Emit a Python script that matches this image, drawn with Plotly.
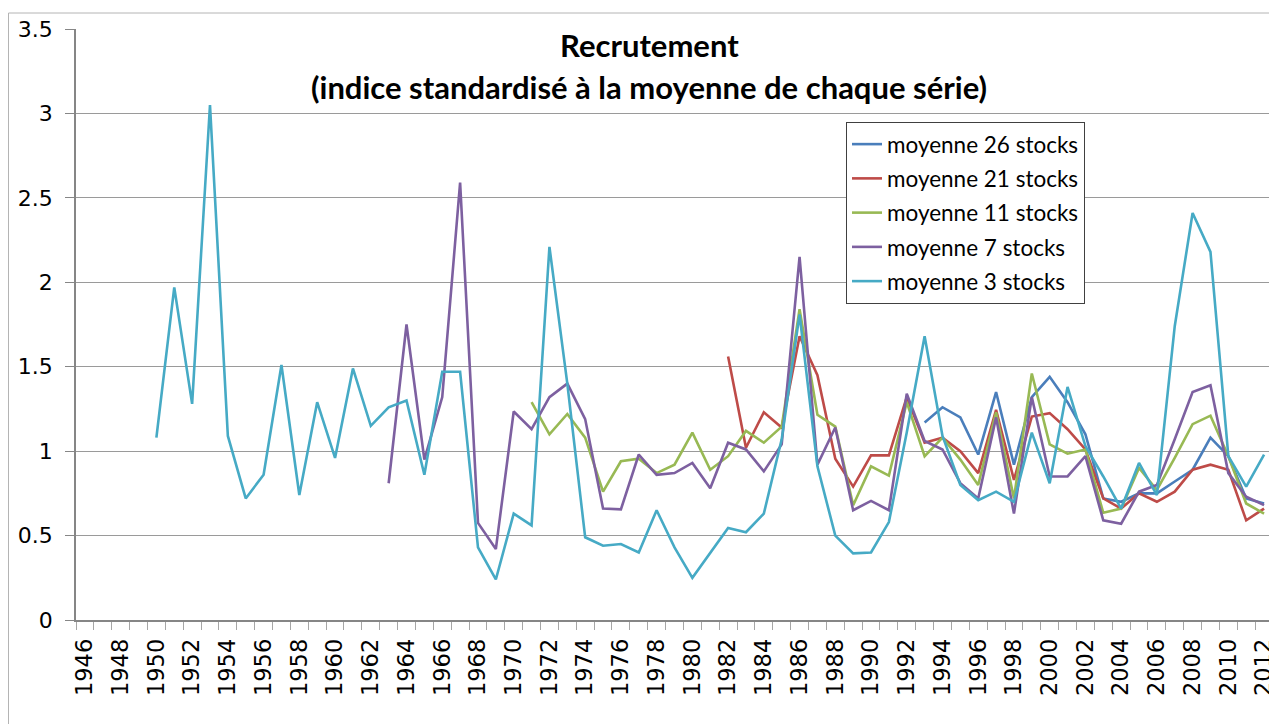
import plotly.graph_objects as go

years = list(range(1946, 2013))

s3_years = list(range(1950, 2013))
s3 = [1.08, 1.97, 1.28, 3.05, 1.09, 0.72, 0.86, 1.51, 0.74, 1.29, 0.96, 1.49, 1.15, 1.26, 1.30,
      0.86, 1.47, 1.47, 0.43, 0.24, 0.63, 0.56, 2.21, 1.40, 0.49, 0.44, 0.45, 0.40, 0.65, 0.43,
      0.25, 0.40, 0.545, 0.52, 0.63, 1.07, 1.81, 0.91, 0.50, 0.395, 0.40, 0.58, 1.11, 1.68, 1.09,
      0.80, 0.71, 0.76, 0.70, 1.11, 0.81, 1.38, 1.03, 0.85, 0.66, 0.93, 0.74, 1.74, 2.41, 2.18,
      0.97, 0.79, 0.98]

s7_years = list(range(1963, 2013))
s7 = [0.81, 1.75, 0.95, 1.32, 2.59, 0.575, 0.42, 1.235, 1.13, 1.32, 1.40, 1.19, 0.66, 0.655,
      0.98, 0.86, 0.87, 0.93, 0.78, 1.05, 1.01, 0.88, 1.04, 2.15, 0.92, 1.14, 0.65, 0.705, 0.65,
      1.34, 1.06, 1.01, 0.81, 0.72, 1.20, 0.63, 1.32, 0.85, 0.85, 0.97, 0.59, 0.57, 0.76, 0.80,
      1.07, 1.35, 1.39, 0.87, 0.73, 0.68]

s11_years = list(range(1971, 2013))
s11 = [1.29, 1.10, 1.22, 1.08, 0.76, 0.94, 0.955, 0.87, 0.92, 1.11, 0.89, 0.97, 1.12, 1.05,
       1.145, 1.84, 1.215, 1.145, 0.68, 0.91, 0.855, 1.29, 0.97, 1.08, 0.95, 0.80, 1.23, 0.72,
       1.46, 1.04, 0.985, 1.01, 0.635, 0.66, 0.90, 0.77, 0.96, 1.16, 1.21, 0.97, 0.69, 0.63]

s21_years = list(range(1982, 2013))
s21 = [1.56, 1.02, 1.23, 1.14, 1.68, 1.45, 0.955, 0.79, 0.975, 0.975, 1.32, 1.05, 1.08, 1.00,
       0.87, 1.245, 0.83, 1.205, 1.225, 1.13, 1.01, 0.72, 0.66, 0.75, 0.70, 0.76, 0.89, 0.92,
       0.89, 0.59, 0.66]

s26_years = list(range(1993, 2013))
s26 = [1.17, 1.26, 1.20, 0.98, 1.35, 0.92, 1.32, 1.44, 1.29, 1.10, 0.72, 0.70, 0.75, 0.75,
       0.82, 0.89, 1.08, 0.97, 0.72, 0.69]

series = [
    ("moyenne 26 stocks", s26_years, s26, "#4A7EBB"),
    ("moyenne 21 stocks", s21_years, s21, "#BE4B48"),
    ("moyenne 11 stocks", s11_years, s11, "#98B954"),
    ("moyenne 7 stocks", s7_years, s7, "#7D60A0"),
    ("moyenne 3 stocks", s3_years, s3, "#46AAC5"),
]

# figure geometry (page has an 8px body offset)
W, H = 1269, 716
L, R, T, B = 68, 4, 21, 104
PW, PH = W - L - R, H - T - B


def px(fx):
    return (fx - L) / PW


def py(fy):
    return (H - B - fy) / PH


fig = go.Figure()
for i, (name, xs, ys, col) in enumerate(series):
    fig.add_trace(go.Scatter(x=xs, y=ys, mode="lines", name=name, legendgroup=f"g{i}",
                             line=dict(color=col, width=2.6)))

fig.update_layout(
    width=W, height=H,
    paper_bgcolor="white", plot_bgcolor="white",
    margin=dict(l=L, r=R, t=T, b=B, autoexpand=False),
    showlegend=True,
    legend=dict(x=px(838), y=py(114), xanchor="left", yanchor="top",
                bordercolor="#404040", borderwidth=1, bgcolor="white",
                font=dict(family="Lato", size=22.5, color="black"),
                tracegroupgap=2, itemwidth=30),
    font=dict(family="DejaVu Sans", color="black"),
)

fig.update_xaxes(
    range=[1945.5, 2012.5],
    tickvals=[y for y in years if y % 2 == 0],
    ticktext=[str(y) for y in years if y % 2 == 0],
    tickangle=-90, tickfont=dict(size=22.5, family="DejaVu Sans"),
    ticks="", showgrid=False, zeroline=False,
    showline=True, linecolor="#868686", linewidth=1.5,
    minor=dict(tickvals=[1945.5 + k for k in range(68)], ticks="outside",
               ticklen=8, tickcolor="#a6a6a6", showgrid=False),
    ticklabelstandoff=8,
)
fig.update_yaxes(
    range=[0, 3.5], dtick=0.5, tickfont=dict(size=22, family="DejaVu Sans"),
    showgrid=True, gridcolor="#9a9a9a", gridwidth=1,
    zeroline=False, showline=True, linecolor="#868686", linewidth=1.5,
    ticks="outside", ticklen=9, tickcolor="#868686",
    ticklabelstandoff=8,
)

fig.add_annotation(text="<b>Recrutement</b>", xref="paper", yref="paper",
                   x=px(641), y=py(37), xanchor="center", yanchor="middle",
                   showarrow=False, font=dict(family="Lato", size=31, color="black"))
fig.add_annotation(text="<b>(indice standardisé à la moyenne de chaque série)</b>",
                   xref="paper", yref="paper",
                   x=px(641), y=py(79), xanchor="center", yanchor="middle",
                   showarrow=False, font=dict(family="Lato", size=31, color="black"))

# outer chart-area border
fig.add_shape(type="rect", xref="paper", yref="paper",
              x0=px(0.5), y0=py(H + 20), x1=px(W + 20), y1=py(5),
              line=dict(color="#b4b4b4", width=1), fillcolor="rgba(0,0,0,0)", layer="below")

fig.write_html("out.html")
